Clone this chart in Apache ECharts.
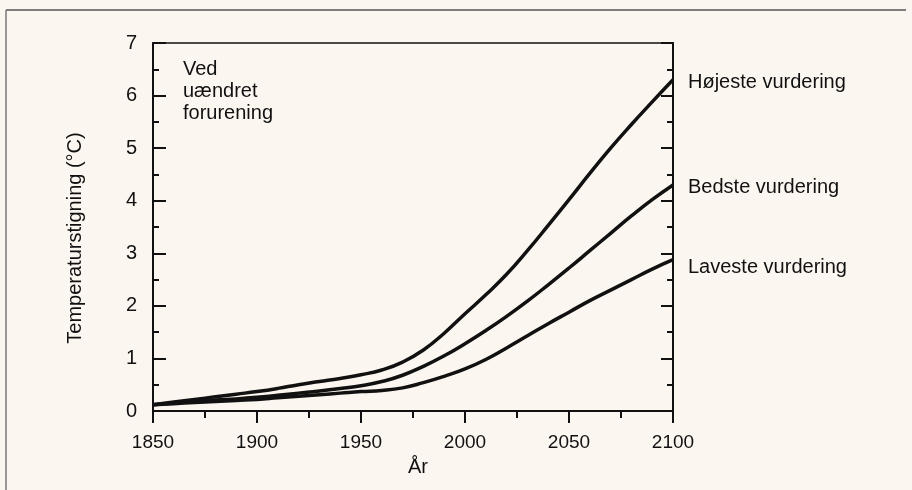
<!DOCTYPE html>
<html>
<head>
<meta charset="utf-8">
<script src="https://cdn.jsdelivr.net/npm/echarts@6/dist/echarts.min.js"></script>
<style>
html,body{margin:0;padding:0;background:#fcf6f0;}
#c{width:912px;height:490px;}
</style>
</head>
<body>
<div id="c"></div>
<script>
const years = [1850,1860,1870,1880,1890,1900,1910,1920,1930,1940,1950,1960,1970,1980,1990,2000,2010,2020,2030,2040,2050,2060,2070,2080,2090,2100];
const hoejeste = [0.12,0.17,0.22,0.27,0.32,0.37,0.43,0.50,0.56,0.62,0.69,0.78,0.93,1.16,1.48,1.85,2.21,2.60,3.05,3.53,4.02,4.52,5.00,5.45,5.88,6.30];
const bedste   = [0.12,0.15,0.18,0.21,0.23,0.26,0.30,0.34,0.38,0.43,0.48,0.56,0.68,0.85,1.05,1.28,1.53,1.80,2.09,2.40,2.72,3.05,3.38,3.71,4.02,4.30];
const laveste  = [0.12,0.14,0.16,0.18,0.20,0.22,0.25,0.28,0.31,0.34,0.37,0.39,0.44,0.54,0.66,0.80,0.98,1.20,1.43,1.66,1.88,2.10,2.30,2.50,2.70,2.88];
const seriesNames = ['Højeste vurdering','Bedste vurdering','Laveste vurdering'];
const xTitle = 'År';
const yTitle = 'Temperaturstigning (°C)';
const note = 'Ved\nuændret\nforurening';

const FONT = '"Liberation Sans", Arial, sans-serif';
const chart = echarts.init(document.getElementById('c'), null, {renderer:'canvas'});
const pair = arr => years.map((y,i)=>[y,arr[i]]);
const labelOffsets = [[0,3],[0,3],[0,8]];
const mk = (name, arr, k) => ({
  type:'line', name, data: pair(arr), smooth:0.5, symbol:'none',
  lineStyle:{color:'#111', width:3.5}, z:3,
  endLabel:{show:true, formatter:name, color:'#111', fontSize:20, fontFamily:FONT, distance:15, offset:labelOffsets[k]}
});
chart.setOption({
  backgroundColor:'#fcf6f0',
  animation:false,
  grid:{left:153, right:239, top:43, bottom:79},
  xAxis:[{
    type:'value', min:1850, max:2100, interval:50,
    axisLine:{show:true, onZero:false, lineStyle:{color:'#111', width:2}},
    axisTick:{show:true, inside:false, length:12, lineStyle:{color:'#111', width:2}},
    minorTick:{show:true, splitNumber:2, length:7, lineStyle:{color:'#111', width:2}},
    splitLine:{show:false},
    axisLabel:{color:'#111', fontSize:19, fontFamily:FONT, margin:22, formatter: v => String(v)}
  },{
    type:'value', position:'top', min:1850, max:2100,
    axisLine:{show:true, onZero:false, lineStyle:{color:'#111', width:1.5}},
    axisTick:{show:false}, axisLabel:{show:false}, splitLine:{show:false}
  }],
  yAxis:[{
    type:'value', min:0, max:7, interval:1,
    axisLine:{show:true, onZero:false, lineStyle:{color:'#111', width:2}},
    axisTick:{show:true, inside:true, length:13, lineStyle:{color:'#111', width:2}},
    minorTick:{show:true, splitNumber:2, length:6, lineStyle:{color:'#111', width:2}},
    splitLine:{show:false},
    axisLabel:{color:'#111', fontSize:20, fontFamily:FONT, margin:16}
  },{
    type:'value', position:'right', min:0, max:7, interval:1,
    axisLine:{show:true, onZero:false, lineStyle:{color:'#111', width:2}},
    axisTick:{show:true, inside:true, length:12, lineStyle:{color:'#111', width:2}},
    minorTick:{show:true, splitNumber:2, length:6, lineStyle:{color:'#111', width:2}},
    splitLine:{show:false},
    axisLabel:{show:false}
  }],
  series:[mk(seriesNames[0],hoejeste,0), mk(seriesNames[1],bedste,1), mk(seriesNames[2],laveste,2)],
  graphic:[
    {type:'line', shape:{x1:6,y1:10,x2:906,y2:10}, style:{stroke:'#555', lineWidth:1.5}},
    {type:'line', shape:{x1:6,y1:10,x2:6,y2:490}, style:{stroke:'#777', lineWidth:1.5}},
    {type:'text', left:183, top:58, style:{text:note, fill:'#111', font:'20px '+FONT, lineHeight:22}},
    {type:'text', x:418, y:467, style:{text:xTitle, fill:'#111', font:'20px '+FONT, align:'center', verticalAlign:'middle'}},
    {type:'text', x:75, y:238, rotation:Math.PI/2, style:{text:yTitle, fill:'#111', font:'20px '+FONT, align:'center', verticalAlign:'middle'}}
  ]
});
</script>
</body>
</html>
